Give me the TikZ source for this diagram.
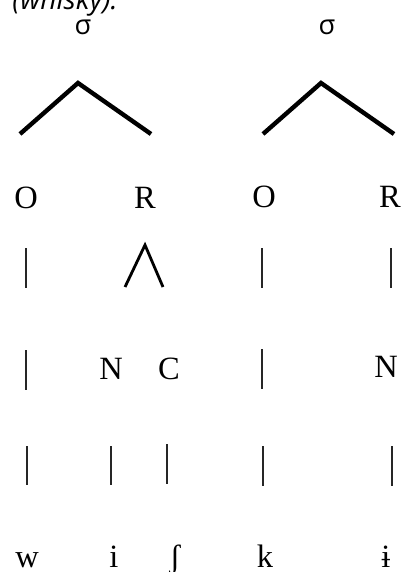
\documentclass[tikz,border=0pt]{standalone}
\usepackage{fontspec}
\setmainfont{Liberation Serif}
\newfontfamily\sigfont{Open Sans}
\usepackage{tikz}

\begin{document}
\begin{tikzpicture}[
    x=0.02cm, y=-0.02cm,
    seg/.style={anchor=base, inner sep=0pt, font=\fontsize{18.5}{20}\selectfont},
    syl/.style={anchor=base, inner sep=0pt, font=\sigfont\fontsize{15.5}{18}\selectfont},
    branch/.style={line width=2.5pt, line join=miter},
    fork/.style={line width=1.6pt},
    bar/.style={line width=0.9pt, black!85}
]
\useasboundingbox (0,0) rectangle (404,572);

% Caption line, cut at the top edge
\node[anchor=base west, inner sep=0pt, font=\sigfont\itshape\fontsize{16}{18}\selectfont] (cap) at (12,9) {(whisky):};

% Syllables
\node[syl] (sig1) at (83,34) {σ};
\node[syl] (sig2) at (327,34) {σ};

% Onsets and rhymes
\node[seg] (o1) at (26,208) {O};
\node[seg] (r1) at (145,208) {R};
\node[seg] (o2) at (264,207) {O};
\node[seg] (r2) at (390,207) {R};

% Nuclei and coda
\node[seg] (n1) at (111,379) {N};
\node[seg] (c1) at (169,379) {C};
\node[seg] (n2) at (386,377) {N};

% Segments
\node[seg] (w) at (27,567) {w};
\node[seg] (i) at (114,567) {i};
\node[seg] (sh) at (175,567) {ʃ};
\node[seg] (k) at (265,567) {k};
\node[seg] (ib) at (386,567) {ɨ};

% Syllable branches
\coordinate (top1) at (78,83);
\coordinate (lft1) at (20,134);
\coordinate (rgt1) at (151,134);
\coordinate (top2) at (321,83);
\coordinate (lft2) at (263,134);
\coordinate (rgt2) at (394,134);
\draw[branch] (lft1) -- (top1) -- (rgt1);
\draw[branch] (lft2) -- (top2) -- (rgt2);

% Rhyme branch
\coordinate (rtop) at (145,245);
\coordinate (rlft) at (125,287);
\coordinate (rrgt) at (163,287);
\draw[fork] (rlft) -- (rtop) -- (rrgt);

% Association bars
\foreach \n/\x/\ya/\yb in {a/26/248/288, b/262/248/288, c/391/248/288,
                           d/26/350/390, e/262/349/389,
                           f/27/446/485, g/111/446/485, h/167/444/484, j/263/446/486, l/392/446/486} {
    \coordinate (\n t) at (\x,\ya);
    \coordinate (\n b) at (\x,\yb);
    \draw[bar] (\n t) -- (\n b);
}

\end{tikzpicture}
\end{document}
